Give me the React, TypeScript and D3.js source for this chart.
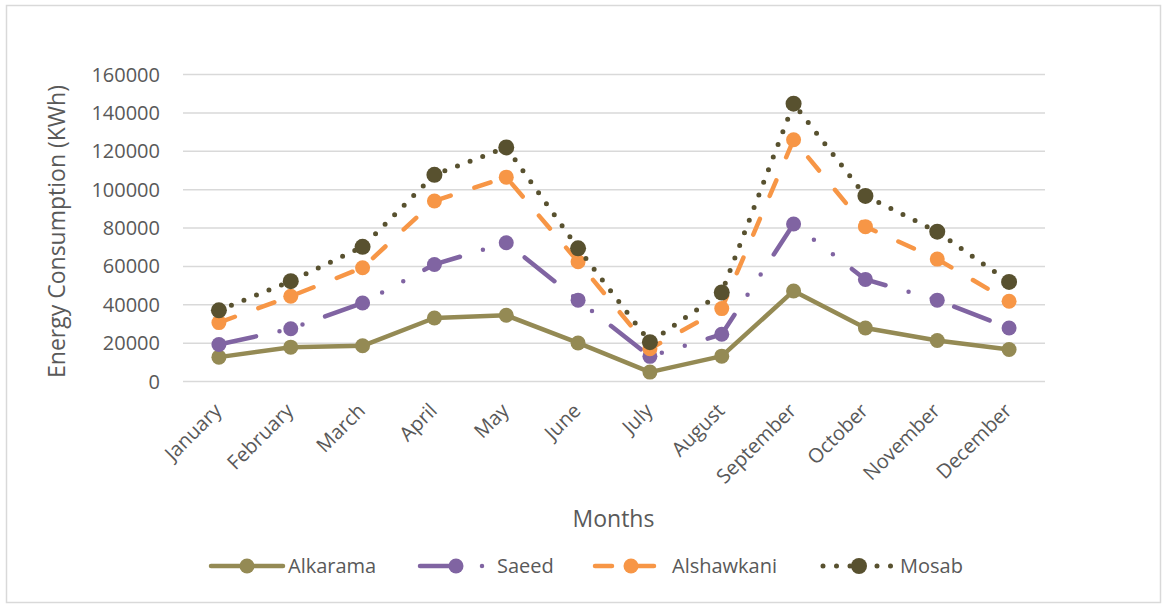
import React from "react";
import * as d3 from "d3";

const months = ["January","February","March","April","May","June","July","August","September","October","November","December"];
const alkarama = [12700, 17900, 18600, 33100, 34500, 20100, 4900, 13200, 47200, 27900, 21400, 16700];
const saeed = [19300, 27500, 40900, 61000, 72300, 42400, 13100, 24600, 82100, 53200, 42400, 27900];
const alshawkani = [30700, 44400, 59300, 94100, 106500, 62400, 17100, 38000, 126000, 80700, 63800, 41800];
const mosab = [37100, 52300, 70200, 107700, 122000, 69400, 20500, 46400, 144800, 96700, 78100, 51900];
const yTicks = [0, 20000, 40000, 60000, 80000, 100000, 120000, 140000, 160000];

const FONT = "'Open Sans', sans-serif";
const TEXT = "#595959";

const series = [
  { name: "Alkarama", values: alkarama, color: "#948A54", dash: "none", width: 4.5, r: 7.5, legendX: 211 },
  { name: "Saeed", values: saeed, color: "#8064A2", dash: "38 24 0 24 0 24", width: 4.5, r: 7.5, legendX: 420 },
  { name: "Alshawkani", values: alshawkani, color: "#F79646", dash: "17 25", width: 4.5, r: 7.5, legendX: 595 },
  { name: "Mosab", values: mosab, color: "#58512F", dash: "0 13.5", width: 5, r: 8, legendX: 823 },
];

export default function App() {
  const W = 1162, H = 605;
  const left = 183, right = 1045, top = 74.5, bottom = 381.5;
  const x = d3.scaleBand<string>().domain(months).range([left, right]);
  const y = d3.scaleLinear().domain([0, 160000]).range([bottom, top]);
  const cx = (m: string) => (x(m) as number) + x.bandwidth() / 2;
  const line = d3.line<number>().x((_, i) => cx(months[i])).y((v) => y(v));

  return (
    <svg width={W} height={H} style={{ position: "absolute", left: 0, top: 0, background: "#fff" }}>
      <rect x={6.5} y={5.5} width={1154} height={597} fill="#fff" stroke="#d9d9d9" strokeWidth={1.5} />
      {yTicks.map((t) => (
        <g key={t}>
          <line x1={left} x2={right} y1={y(t)} y2={y(t)} stroke="#d9d9d9" strokeWidth={1.5} />
          <text x={160} y={y(t)} dy="0.35em" textAnchor="end" fontFamily={FONT} fontSize={20} fill={TEXT}>{t}</text>
        </g>
      ))}
      <text transform={`translate(64.5,231.5) rotate(-90)`} textAnchor="middle" fontFamily={FONT} fontSize={23} fill={TEXT}>Energy Consumption (KWh)</text>
      {months.map((m) => (
        <text key={m} transform={`translate(${cx(m) - 1},407) rotate(-45)`} textAnchor="end" dy="0.35em" fontFamily={FONT} fontSize={20} fill={TEXT}>{m}</text>
      ))}
      <text x={613.5} y={527} textAnchor="middle" fontFamily={FONT} fontSize={23} fill={TEXT}>Months</text>
      {series.map((s) => (
        <g key={s.name}>
          <path d={line(s.values) as string} fill="none" stroke={s.color} strokeWidth={s.width}
            strokeDasharray={s.dash} strokeLinecap="round" strokeLinejoin="round" />
          {s.values.map((v, i) => (
            <circle key={i} cx={cx(months[i])} cy={y(v)} r={s.r} fill={s.color} />
          ))}
        </g>
      ))}
      {series.map((s) => (
        <g key={"lg" + s.name}>
          <line x1={s.legendX} x2={s.legendX + 72} y1={566} y2={566} stroke={s.color} strokeWidth={s.width}
            strokeDasharray={s.dash} strokeLinecap="round" />
          <circle cx={s.legendX + 36} cy={566} r={s.r} fill={s.color} />
          <text x={s.legendX + 77} y={566} dy="0.35em" fontFamily={FONT} fontSize={20} fill={TEXT}>{s.name}</text>
        </g>
      ))}
    </svg>
  );
}
